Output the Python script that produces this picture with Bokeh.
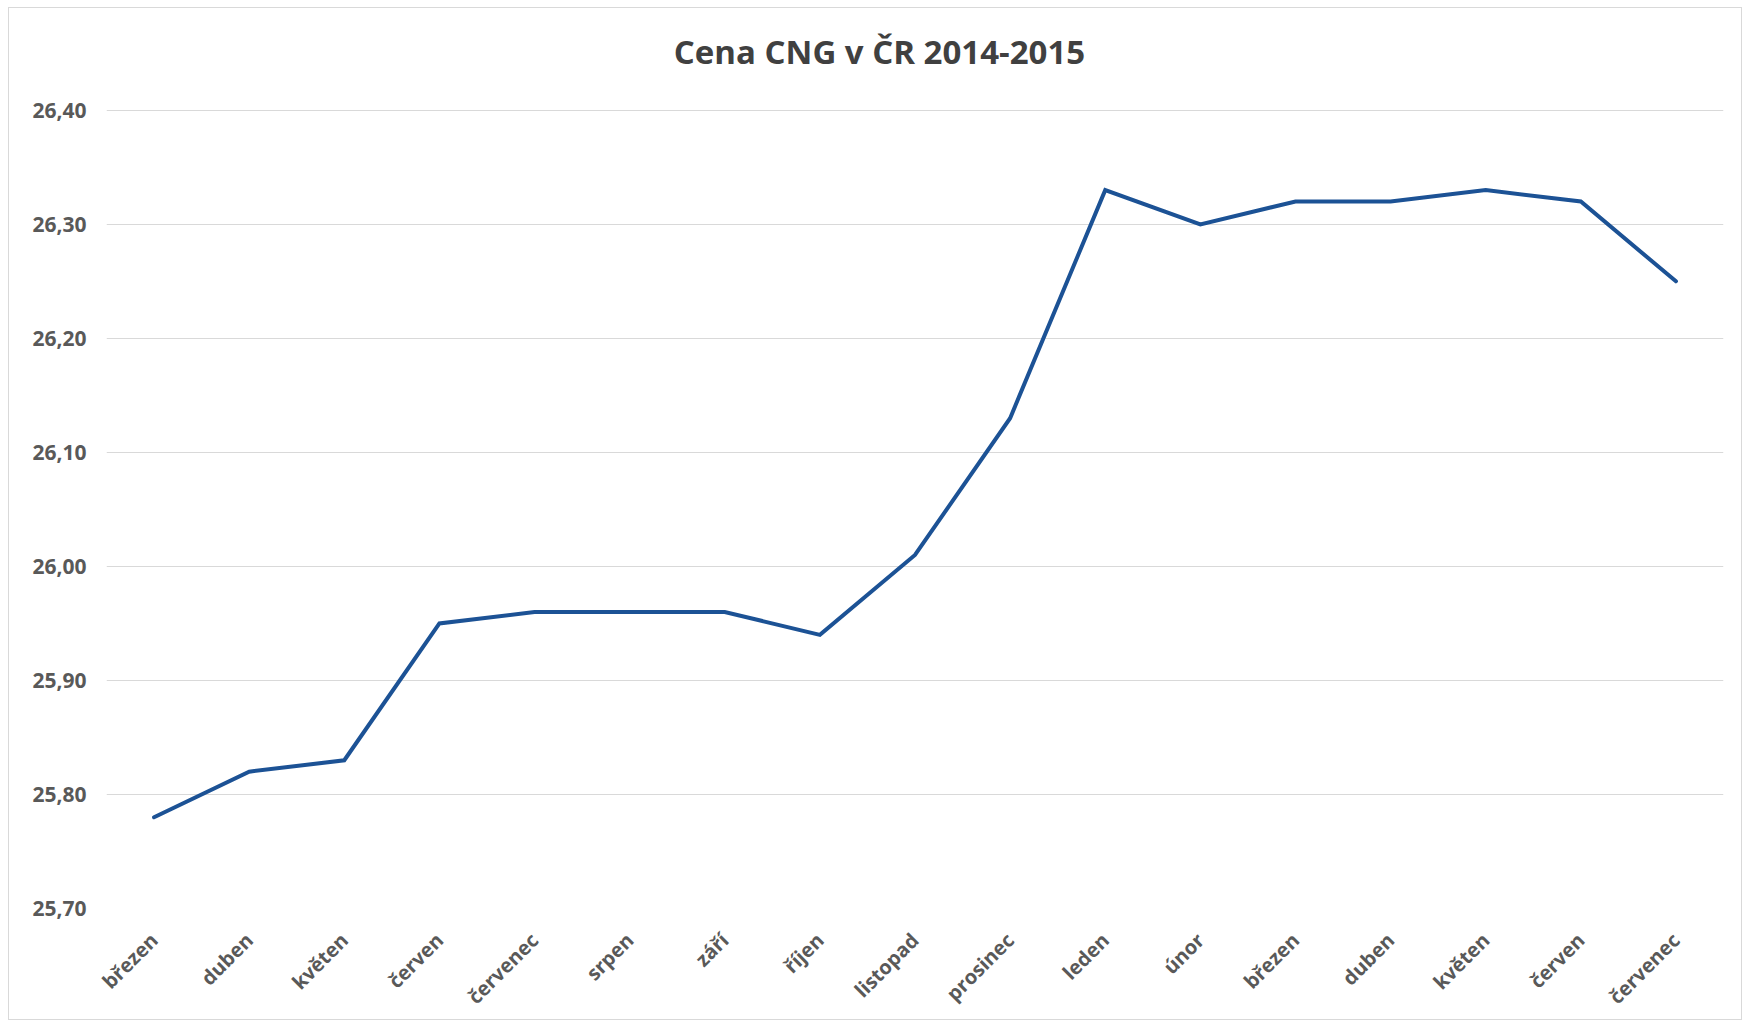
from bokeh.plotting import figure
from bokeh.embed import file_html
from bokeh.resources import INLINE
from bokeh.models import FixedTicker, CustomJSTickFormatter, Range1d, Label
import math

months = ["březen", "duben", "květen", "červen", "červenec", "srpen", "září", "říjen",
          "listopad", "prosinec", "leden", "únor", "březen", "duben", "květen", "červen", "červenec"]
prices = [25.78, 25.82, 25.83, 25.95, 25.96, 25.96, 25.96, 25.94,
          26.01, 26.13, 26.33, 26.30, 26.32, 26.32, 26.33, 26.32, 26.25]
y_ticks = [25.70, 25.80, 25.90, 26.00, 26.10, 26.20, 26.30, 26.40]
title_text = "Cena CNG v ČR 2014-2015"

xs = list(range(len(months)))

W, H = 1734, 1013
ML, MR, MT, MB = 97, 20, 10, 111
axis_top_px = 102          # pixel row (figure coords) where the top tick sits
frame_h = H - MT - MB
px_per_unit = (H - MB - axis_top_px) / (y_ticks[-1] - y_ticks[0])
y_end = y_ticks[-1] + (axis_top_px - MT) / px_per_unit

p = figure(width=W, height=H, output_backend="svg", toolbar_location=None,
           x_range=Range1d(-0.5, len(months) - 0.5), y_range=Range1d(y_ticks[0], y_end),
           min_border_left=ML, min_border_right=MR, min_border_top=MT, min_border_bottom=MB)
p.outline_line_color = None
p.styles = {"border": "1px solid #d9d9d9", "margin-left": "8px", "margin-top": "7px"}

title = Label(text=title_text, x=870 - ML, y=(H - MB) - 45, x_units="screen", y_units="screen",
              text_align="center", text_baseline="middle", text_font="Open Sans",
              text_font_size="33px", text_font_style="bold", text_color="#404040")
p.add_layout(title)

p.line(xs, prices, line_color="#1C5295", line_width=4, line_join="miter", line_cap="round")

p.xaxis.ticker = FixedTicker(ticks=xs)
p.xaxis.major_label_overrides = {i: m for i, m in enumerate(months)}
p.xaxis.major_label_orientation = math.pi / 4
p.yaxis.ticker = FixedTicker(ticks=y_ticks)
p.yaxis.formatter = CustomJSTickFormatter(code="return tick.toFixed(2).replace('.', ',');")

for ax in (p.xaxis[0], p.yaxis[0]):
    ax.axis_line_color = None
    ax.major_tick_line_color = None
    ax.minor_tick_line_color = None
    ax.major_label_text_font = "Open Sans"
    ax.major_label_text_font_style = "bold"
    ax.major_label_text_font_size = "20px"
    ax.major_label_text_color = "#595959"
p.yaxis.major_label_text_font_size = "21px"
p.yaxis.major_label_standoff = 14
p.xaxis.major_label_standoff = 22

p.xgrid.grid_line_color = None
p.ygrid.grid_line_color = "#d9d9d9"
p.ygrid.grid_line_width = 1

open("out.html", "w").write(file_html(p, INLINE))
